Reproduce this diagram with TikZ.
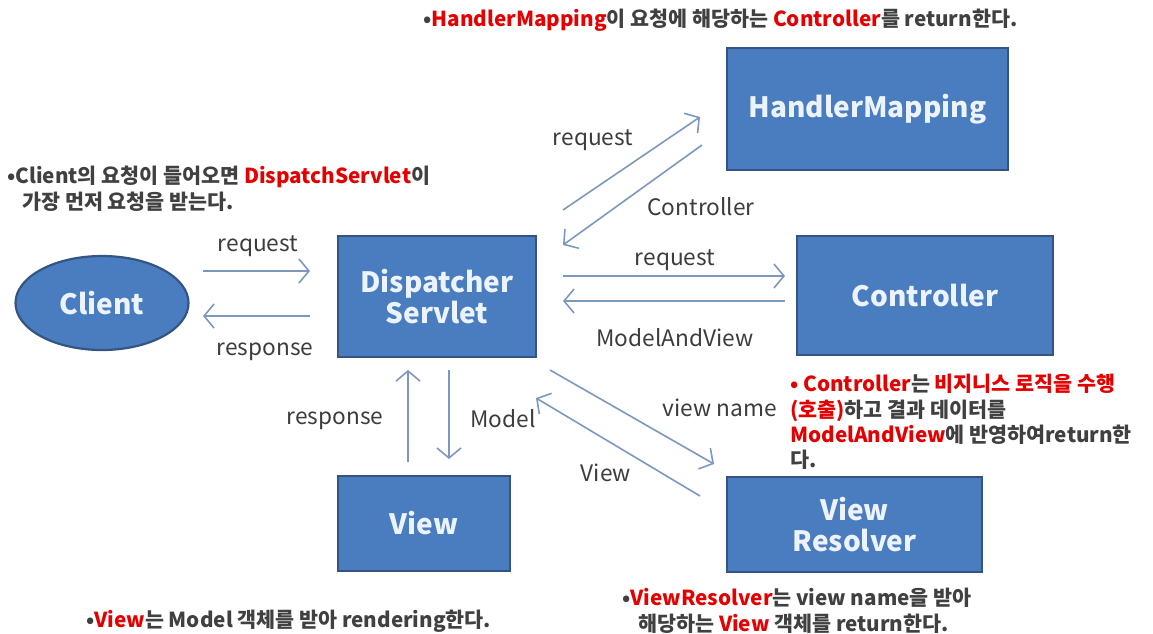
\documentclass[tikz,border=0pt]{standalone}
\usepackage{fontspec}
\setmainfont{Noto Sans CJK KR}
\usetikzlibrary{arrows.meta,shapes.geometric}
\newdimen\pu \pu=0.75pt
\definecolor{boxfill}{RGB}{74,125,191}
\definecolor{boxline}{RGB}{52,84,130}
\definecolor{boxtext}{RGB}{236,243,252}
\definecolor{flow}{RGB}{125,152,190}
\definecolor{labelgray}{RGB}{60,60,60}
\definecolor{notegray}{RGB}{64,64,64}
\definecolor{notered}{RGB}{228,0,0}
\newcommand\hl[1]{\textcolor{notered}{#1}}
\tikzset{
  block/.style={draw=boxline, line width=1.65pt, fill=boxfill, text=boxtext,
    font=\fontsize{21}{25}\selectfont\bfseries, align=center, inner sep=0pt},
  client/.style={block, ellipse},
  flowline/.style={draw=flow, line width=1.2pt,
    -{Straight Barb[length=7.5pt, width=18pt, line width=1.2pt]}},
  flowlabel/.style={text=labelgray, font=\fontsize{17}{20}\selectfont, inner sep=0pt},
  note/.style={text=notegray, font=\fontsize{15.5}{19}\selectfont\bfseries,
    align=left, inner sep=0pt},
}
\begin{document}
\begin{tikzpicture}[x=0.75pt, y=-0.75pt]
\useasboundingbox (0,0) rectangle (1153,633);

% components
\node[client, minimum width=173\pu, minimum height=94\pu] (client) at (102,303) {Client};
\node[block, minimum width=198\pu, minimum height=121\pu] (ds) at (437,296.5) {Dispatcher\\[-2pt]Servlet};
\node[block, minimum width=281\pu, minimum height=122\pu] (hm) at (867.5,109) {HandlerMapping};
\node[block, minimum width=256\pu, minimum height=119\pu] (ctrl) at (925,295.5) {Controller};
\node[block, minimum width=172\pu, minimum height=95\pu] (view) at (424,523.5) {View};
\node[block, minimum width=255\pu, minimum height=95\pu] (vr) at (854.5,524.5) {View\\[-2pt]Resolver};

% connector end points
\coordinate (c1a) at (203,271); \coordinate (c1b) at (310,271);
\coordinate (c2a) at (310,316); \coordinate (c2b) at (203,316);
\coordinate (h1a) at (563,210); \coordinate (h1b) at (700,117);
\coordinate (h2a) at (702,145); \coordinate (h2b) at (563,245);
\coordinate (k1a) at (563,276); \coordinate (k1b) at (785,276);
\coordinate (k2a) at (785,301); \coordinate (k2b) at (563,301);
\coordinate (v1a) at (408,462); \coordinate (v1b) at (408,370);
\coordinate (v2a) at (449,370); \coordinate (v2b) at (449,459);
\coordinate (r1a) at (550,370); \coordinate (r1b) at (714,464);
\coordinate (r2a) at (700,496); \coordinate (r2b) at (536,398);

% message flow
\draw[flowline] (c1a) -- (c1b);
\draw[flowline] (c2a) -- (c2b);
\draw[flowline] (h1a) -- (h1b);
\draw[flowline] (h2a) -- (h2b);
\draw[flowline] (k1a) -- (k1b);
\draw[flowline] (k2a) -- (k2b);
\draw[flowline] (v1a) -- (v1b);
\draw[flowline] (v2a) -- (v2b);
\draw[flowline] (r1a) -- (r1b);
\draw[flowline] (r2a) -- (r2b);

% flow labels
\node[flowlabel] (l1) at (258,246) {request};
\node[flowlabel] (l2) at (265,352) {response};
\node[flowlabel] (l3) at (593,140) {request};
\node[flowlabel] (l4) at (701,207) {Controller};
\node[flowlabel] (l5) at (675,260) {request};
\node[flowlabel] (l6) at (675,338) {ModelAndView};
\node[flowlabel] (l7) at (335,421) {response};
\node[flowlabel] (l8) at (503,419) {Model};
\node[flowlabel] (l9) at (720,408) {view name};
\node[flowlabel] (l10) at (606,473) {View};

% explanatory notes
\node[note, anchor=west] (n1) at (423,20)
  {•\hl{HandlerMapping}이 요청에 해당하는 \hl{Controller}를 return한다.};
\node[note, anchor=north west] (n2) at (7,166)
  {•Client의 요청이 들어오면 \hl{DispatchServlet}이\\\hspace*{15\pu}가장 먼저 요청을 받는다.};
\node[note, anchor=north west, fill=white, inner ysep=2\pu, inner xsep=0pt] (n3) at (790,372)
  {\hl{• Controller}는 \hl{비지니스 로직을 수행}\\\hl{(호출)}하고 결과 데이터를\\\hl{ModelAndView}에 반영하여return한\\다.};
\node[note, anchor=west] (n4) at (86,621)
  {•\hl{View}는 Model 객체를 받아 rendering한다.};
\node[note, anchor=north west] (n5) at (622,588)
  {•\hl{ViewResolver}는 view name을 받아\\\hspace*{16\pu}해당하는 \hl{View} 객체를 return한다.};
\end{tikzpicture}
\end{document}
